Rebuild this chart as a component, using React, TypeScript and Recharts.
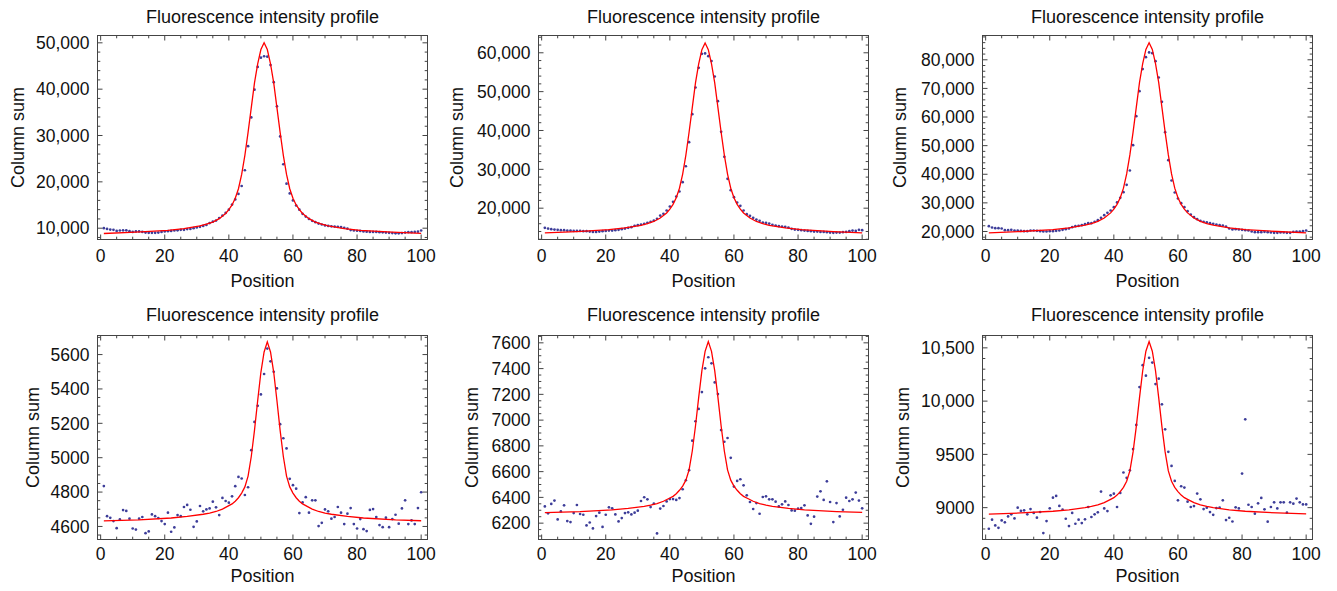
import React from 'react';
import { ScatterChart, Scatter, XAxis, YAxis } from 'recharts';

// ---------- data ----------
const positions = Array.from({ length: 100 }, (_, i) => i + 1);

const p1Sum = [10000, 9850, 9700, 9650, 9400, 9500, 9550, 9550, 9350, 9200,
  9300, 9300, 9200, 9050, 9000, 9000, 9000, 9050, 9200, 9300,
  9350, 9400, 9500, 9550, 9650, 9650, 9800, 9850, 10000, 10150,
  10300, 10500, 10700, 11100, 11400, 11650, 12200, 12700, 13300, 14000,
  15100, 16200, 17400, 19100, 22500, 27700, 33900, 39900, 44800, 46800,
  47100, 47000, 45200, 41500, 36300, 29800, 23800, 19600, 17500, 16000,
  14900, 14000, 13100, 12500, 12000, 11600, 11300, 11000, 10800, 10600,
  10500, 10400, 10350, 10300, 10250, 10100, 9900, 9600, 9500, 9450,
  9400, 9300, 9250, 9200, 9200, 9200, 9150, 9100, 9050, 9000,
  8950, 8900, 8900, 8950, 9050, 9150, 9150, 9200, 9250, 9500];

const p2Sum = [14940, 14760, 14590, 14500, 14420, 14330, 14330, 14250, 14250, 14160,
  14160, 14160, 14080, 14080, 13990, 13900, 13900, 13990, 14080, 14160,
  14250, 14250, 14330, 14420, 14590, 14760, 14940, 15110, 15450, 15620,
  15800, 15970, 16220, 16480, 16820, 17250, 18110, 18540, 19400, 20430,
  21630, 23000, 24290, 26700, 30800, 37000, 44210, 51070, 56140, 59740,
  59830, 59140, 57860, 53900, 47550, 39660, 33220, 27550, 24640, 22830,
  21460, 20600, 19400, 18450, 18030, 17510, 17080, 16740, 16310, 16220,
  16050, 15710, 15540, 15370, 15280, 15190, 15020, 14680, 14500, 14420,
  14330, 14250, 14160, 14080, 13990, 13990, 13900, 13900, 13820, 13730,
  13650, 13730, 13730, 13820, 13900, 14080, 14250, 14160, 14420, 14330];

const p3Sum = [21860, 21400, 21170, 21170, 21050, 20470, 20470, 20580, 20350, 20350,
  20230, 20120, 20120, 20350, 20350, 20230, 20120, 20000, 20000, 20120,
  20120, 20230, 20350, 20580, 20820, 21050, 21510, 21860, 21980, 22210,
  22560, 22910, 22910, 23380, 23960, 24780, 25710, 26520, 27340, 28500,
  30140, 31770, 33750, 36310, 41320, 50170, 60310, 69050, 76740, 80930,
  82560, 82330, 79530, 73820, 65320, 54720, 44930, 37820, 33630, 31530,
  29900, 28500, 27110, 25940, 25010, 24310, 23730, 23380, 23150, 22910,
  22680, 22450, 22210, 22100, 21750, 21050, 20700, 20820, 20700, 20580,
  20470, 20350, 20000, 19770, 19770, 19770, 19880, 19770, 19650, 19530,
  19530, 19650, 19650, 19530, 19530, 19880, 20000, 20000, 20120, 20350];

const p4Sum = [4835, 4660, 4650, 4631, 4590, 4641, 4695, 4690, 4645, 4588,
  4582, 4645, 4655, 4561, 4571, 4670, 4660, 4649, 4631, 4614,
  4680, 4569, 4594, 4666, 4660, 4713, 4725, 4697, 4598, 4629,
  4719, 4688, 4699, 4705, 4744, 4711, 4666, 4766, 4748, 4738,
  4775, 4834, 4888, 4879, 4783, 4828, 5044, 5208, 5302, 5368,
  5487, 5635, 5561, 5500, 5403, 5195, 5113, 5054, 4877, 4840,
  4820, 4678, 4740, 4770, 4680, 4752, 4752, 4602, 4621, 4699,
  4688, 4645, 4655, 4713, 4680, 4614, 4674, 4707, 4614, 4588,
  4643, 4584, 4573, 4696, 4701, 4655, 4608, 4596, 4651, 4596,
  4643, 4668, 4616, 4705, 4752, 4614, 4635, 4614, 4707, 4799];

const p5Sum = [6330, 6276, 6349, 6375, 6229, 6291, 6338, 6216, 6208, 6278,
  6341, 6271, 6265, 6182, 6205, 6159, 6255, 6281, 6171, 6265,
  6323, 6315, 6268, 6213, 6239, 6278, 6284, 6268, 6281, 6297,
  6372, 6401, 6385, 6325, 6351, 6120, 6313, 6333, 6369, 6387,
  6387, 6380, 6395, 6463, 6533, 6611, 6840, 6991, 7087, 7218,
  7402, 7488, 7441, 7293, 7202, 6923, 6832, 6861, 6707, 6484,
  6528, 6541, 6494, 6416, 6364, 6310, 6356, 6273, 6403, 6408,
  6385, 6385, 6367, 6330, 6346, 6369, 6341, 6299, 6297, 6312,
  6317, 6338, 6260, 6195, 6250, 6406, 6447, 6380, 6525, 6364,
  6208, 6356, 6252, 6304, 6398, 6372, 6385, 6437, 6375, 6315];

const p6Sum = [8802, 8887, 8833, 8811, 8880, 8862, 8918, 8937, 8899, 9000,
  8969, 8975, 8937, 8987, 8950, 8906, 8959, 8761, 8874, 8994,
  9094, 9110, 9016, 8981, 8896, 8827, 8950, 8849, 8887, 8855,
  8890, 9006, 8912, 8937, 8956, 9151, 8993, 8968, 9116, 9131,
  9006, 9138, 9330, 9280, 9350, 9550, 9777, 10132, 10337, 10239,
  10406, 10362, 10160, 10211, 9970, 9735, 9524, 9392, 9251, 9069,
  9201, 9188, 9056, 9006, 9015, 9132, 9078, 8987, 9000, 8958,
  8933, 8996, 9000, 9069, 8883, 8905, 8870, 9003, 8993, 9320,
  9829, 9027, 9006, 8943, 9041, 9091, 8984, 8868, 9006, 9050,
  8993, 9050, 9050, 8953, 9050, 9037, 9085, 9050, 9030, 9030];

// fitted curve
const fitPosA = [1, 11, 21, 26, 31, 33, 35, 37, 39, 40, 41, 42, 43, 44, 45, 46, 47, 48, 49, 50,
  51, 52, 53, 54, 55, 56, 57, 58, 59, 60, 61, 62, 63, 65, 67, 69, 71, 76, 81, 91, 100];
const fitPosB = [1, 12, 22, 27, 32, 34, 36, 38, 40, 41, 42, 43, 44, 45, 46, 47, 48, 49, 50, 51,
  52, 53, 54, 55, 56, 57, 58, 59, 60, 61, 62, 63, 64, 66, 68, 70, 72, 77, 82, 92, 100];

const fit1 = [8850, 9140, 9550, 9920, 10500, 10870, 11320, 12060, 13170, 13990, 15020, 16460, 18520, 21610, 25720, 30660, 36010, 41360, 45470, 48560,
  50000, 48560, 45470, 41360, 36010, 30660, 25720, 21610, 18520, 16460, 15020, 13990, 13170, 12060, 11320, 10870, 10500, 9920, 9550, 9140, 8860];
const fit2 = [13650, 13990, 14480, 14920, 15600, 16040, 16580, 17460, 18780, 19760, 20980, 22690, 25130, 28790, 33680, 39540, 45890, 52240, 57130, 60790,
  62500, 60790, 57130, 52240, 45890, 39540, 33680, 28790, 25130, 22690, 20980, 19760, 18780, 17460, 16580, 16040, 15600, 14920, 14480, 13990, 13660];
const fit3 = [19530, 19990, 20660, 21260, 22190, 22780, 23510, 24710, 26500, 27830, 29490, 31820, 35140, 40120, 46760, 54730, 63360, 72000, 78640, 83620,
  85940, 83620, 78640, 72000, 63360, 54730, 46760, 40120, 35140, 31820, 29490, 27830, 26500, 24710, 23510, 22780, 22190, 21260, 20660, 19990, 19540];
const fit4 = [4632, 4638, 4649, 4658, 4671, 4678, 4687, 4701, 4721, 4731, 4747, 4767, 4794, 4830, 4893, 5007, 5159, 5333, 5497, 5615,
  5674, 5615, 5497, 5333, 5159, 5007, 4893, 4830, 4794, 4767, 4747, 4731, 4721, 4701, 4687, 4678, 4671, 4658, 4649, 4638, 4633];
const fit5 = [6282, 6290, 6303, 6315, 6331, 6340, 6352, 6370, 6395, 6408, 6428, 6455, 6488, 6534, 6614, 6760, 6954, 7176, 7384, 7534,
  7610, 7534, 7384, 7176, 6954, 6760, 6614, 6534, 6488, 6455, 6428, 6408, 6395, 6370, 6352, 6340, 6331, 6315, 6303, 6290, 6283];
const fit6 = [8940, 8950, 8966, 8980, 9000, 9011, 9026, 9047, 9078, 9094, 9118, 9151, 9191, 9248, 9345, 9523, 9760, 10030, 10285, 10468,
  10560, 10468, 10285, 10030, 9760, 9523, 9345, 9248, 9191, 9151, 9118, 9094, 9078, 9047, 9026, 9011, 9000, 8980, 8966, 8950, 8941];

// ticks
const xMajor = [0, 20, 40, 60, 80, 100];
const yMajor1 = [10000, 20000, 30000, 40000, 50000];
const yMajor2 = [20000, 30000, 40000, 50000, 60000];
const yMajor3 = [20000, 30000, 40000, 50000, 60000, 70000, 80000];
const yMajor4 = [4600, 4800, 5000, 5200, 5400, 5600];
const yMajor5 = [6200, 6400, 6600, 6800, 7000, 7200, 7400, 7600];
const yMajor6 = [9000, 9500, 10000, 10500];

const TITLE = 'Fluorescence intensity profile';
const X_LABEL = 'Position';
const Y_LABEL = 'Column sum';

// ---------- styles ----------
const FONT = "'Liberation Sans', Arial, Helvetica, sans-serif";
const DOT_COLOR = '#3d3d99';
const FIT_COLOR = '#ff0000';
const FRAME_COLOR = '#444444';
const TEXT_COLOR = '#111111';
const X_DOMAIN = [-0.98, 101.98];

const layout = [
  { cellX: 0, cellY: 0, cellW: 445, cellH: 295, L: 97.5, R: 427.5, T: 35.5, B: 239.5, yLabX: 24, titleY: 23, xTickY: 262, xLabY: 287 },
  { cellX: 445, cellY: 0, cellW: 445, cellH: 295, L: 538.5, R: 868.5, T: 35.5, B: 239.5, yLabX: 463, titleY: 23, xTickY: 262, xLabY: 287 },
  { cellX: 890, cellY: 0, cellW: 447, cellH: 295, L: 982.5, R: 1312.5, T: 35.5, B: 239.5, yLabX: 906, titleY: 23, xTickY: 262, xLabY: 287 },
  { cellX: 0, cellY: 295, cellW: 445, cellH: 296, L: 97.5, R: 427.5, T: 335.5, B: 539.5, yLabX: 39, titleY: 321, xTickY: 560, xLabY: 582 },
  { cellX: 445, cellY: 295, cellW: 445, cellH: 296, L: 538.5, R: 868.5, T: 335.5, B: 539.5, yLabX: 478, titleY: 321, xTickY: 560, xLabY: 582 },
  { cellX: 890, cellY: 295, cellW: 447, cellH: 296, L: 982.5, R: 1312.5, T: 335.5, B: 539.5, yLabX: 909, titleY: 321, xTickY: 560, xLabY: 582 },
];

const panels = [
  { sums: p1Sum, fitX: fitPosA, fitY: fit1, yDomain: [7560, 51580], yMajor: yMajor1, yMinorStep: 2000 },
  { sums: p2Sum, fitX: fitPosA, fitY: fit2, yDomain: [11940, 64450], yMajor: yMajor2, yMinorStep: 2000 },
  { sums: p3Sum, fitX: fitPosA, fitY: fit3, yDomain: [17200, 88490], yMajor: yMajor3, yMinorStep: 2000 },
  { sums: p4Sum, fitX: fitPosB, fitY: fit4, yDomain: [4524, 5711], yMajor: yMajor4, yMinorStep: 50 },
  { sums: p5Sum, fitX: fitPosB, fitY: fit5, yDomain: [6073, 7657], yMajor: yMajor5, yMinorStep: 50 },
  { sums: p6Sum, fitX: fitPosA, fitY: fit6, yDomain: [8701, 10616], yMajor: yMajor6, yMinorStep: 100 },
];

const MAJOR_LEN = 5;
const MINOR_LEN = 2.8;
const AXIS_PAD = 2; // room Recharts needs for the axis band

function fmt(v: number): string {
  if (Math.abs(v) < 10000) return String(v);
  const s = String(Math.round(v));
  return s.replace(/\B(?=(\d{3})+(?!\d))/g, ',');
}

function stepTicks(lo: number, hi: number, step: number): number[] {
  const out: number[] = [];
  for (let v = Math.ceil(lo / step) * step; v <= hi + 1e-9; v += step) out.push(Math.round(v * 1000) / 1000);
  return out;
}

const isIn = (arr: number[], v: number) => arr.some((a) => Math.abs(a - v) < 1e-6);

const DotShape = (props: any) => {
  if (props.cx == null || props.cy == null) return <g />;
  return <circle cx={props.cx} cy={props.cy} r={1.35} fill={DOT_COLOR} />;
};
const NoShape = () => <g />;

function Panel({ idx }: { idx: number }) {
  const lay = layout[idx];
  const cfg = panels[idx];
  const lT = lay.T - lay.cellY;
  const lB = lay.B - lay.cellY;
  const lL = lay.L - lay.cellX;
  const lR = lay.R - lay.cellX;
  const margin = { left: lL - AXIS_PAD, right: lay.cellW - lR, top: lT, bottom: lay.cellH - lB - AXIS_PAD };

  const points = positions.map((p, i) => ({ x: p, y: cfg.sums[i] }));
  const fit = cfg.fitX.map((p, i) => ({ x: p, y: cfg.fitY[i] }));

  const xTicks = stepTicks(0, 100, 5);
  const yTicks = stepTicks(cfg.yDomain[0], cfg.yDomain[1], cfg.yMinorStep);
  const xTickLabelY = lay.xTickY - lay.cellY;

  const XTick = (props: any) => {
    const { x, payload } = props;
    const v = payload.value;
    const major = isIn(xMajor, v);
    const len = major ? MAJOR_LEN : MINOR_LEN;
    return (
      <g>
        <line x1={x} x2={x} y1={lB} y2={lB - len} stroke={FRAME_COLOR} strokeWidth={1} />
        <line x1={x} x2={x} y1={lT} y2={lT + len} stroke={FRAME_COLOR} strokeWidth={1} />
        {major && (
          <text x={x} y={xTickLabelY} textAnchor="middle" fontFamily={FONT} fontSize={17.5} fill={TEXT_COLOR}>
            {fmt(v)}
          </text>
        )}
      </g>
    );
  };

  const YTick = (props: any) => {
    const { y, payload } = props;
    const v = payload.value;
    const major = isIn(cfg.yMajor, v);
    const len = major ? MAJOR_LEN : MINOR_LEN;
    return (
      <g>
        <line x1={lL} x2={lL + len} y1={y} y2={y} stroke={FRAME_COLOR} strokeWidth={1} />
        <line x1={lR} x2={lR - len} y1={y} y2={y} stroke={FRAME_COLOR} strokeWidth={1} />
        {major && (
          <text x={lL - 8} y={y + 6.2} textAnchor="end" fontFamily={FONT} fontSize={17.5} fill={TEXT_COLOR}>
            {fmt(v)}
          </text>
        )}
      </g>
    );
  };

  return (
    <div style={{ position: 'absolute', left: lay.cellX, top: lay.cellY, width: lay.cellW, height: lay.cellH }}>
      <ScatterChart width={lay.cellW} height={lay.cellH} margin={margin}>
        <XAxis
          type="number"
          dataKey="x"
          domain={X_DOMAIN}
          ticks={xTicks}
          interval={0}
          allowDataOverflow
          axisLine={false}
          tickLine={false}
          height={AXIS_PAD}
          tick={XTick}
        />
        <YAxis
          type="number"
          dataKey="y"
          domain={cfg.yDomain}
          ticks={yTicks}
          interval={0}
          allowDataOverflow
          axisLine={false}
          tickLine={false}
          width={AXIS_PAD}
          tick={YTick}
        />
        <Scatter data={points} shape={DotShape} isAnimationActive={false} />
        <Scatter
          data={fit}
          shape={NoShape}
          line={{ stroke: FIT_COLOR, strokeWidth: 1.3 }}
          lineJointType="linear"
          isAnimationActive={false}
        />
      </ScatterChart>
    </div>
  );
}

export default function App() {
  return (
    <div style={{ position: 'absolute', left: 0, top: 0, width: 1337, height: 591, background: '#ffffff', overflow: 'hidden' }}>
      {layout.map((_, i) => (
        <Panel key={i} idx={i} />
      ))}
      <svg width={1337} height={591} style={{ position: 'absolute', left: 0, top: 0, pointerEvents: 'none' }}>
        {layout.map((lay, i) => {
          const cx = (lay.L + lay.R) / 2;
          const cy = (lay.T + lay.B) / 2;
          return (
            <g key={i}>
              <rect x={lay.L} y={lay.T} width={lay.R - lay.L} height={lay.B - lay.T} fill="none" stroke={FRAME_COLOR} strokeWidth={1} />
              <text x={cx} y={lay.titleY} textAnchor="middle" fontFamily={FONT} fontSize={18} fill={TEXT_COLOR}>{TITLE}</text>
              <text x={cx} y={lay.xLabY} textAnchor="middle" fontFamily={FONT} fontSize={18} fill={TEXT_COLOR}>{X_LABEL}</text>
              <text x={lay.yLabX} y={cy} textAnchor="middle" fontFamily={FONT} fontSize={18} fill={TEXT_COLOR} transform={`rotate(-90 ${lay.yLabX} ${cy})`}>{Y_LABEL}</text>
            </g>
          );
        })}
      </svg>
    </div>
  );
}
